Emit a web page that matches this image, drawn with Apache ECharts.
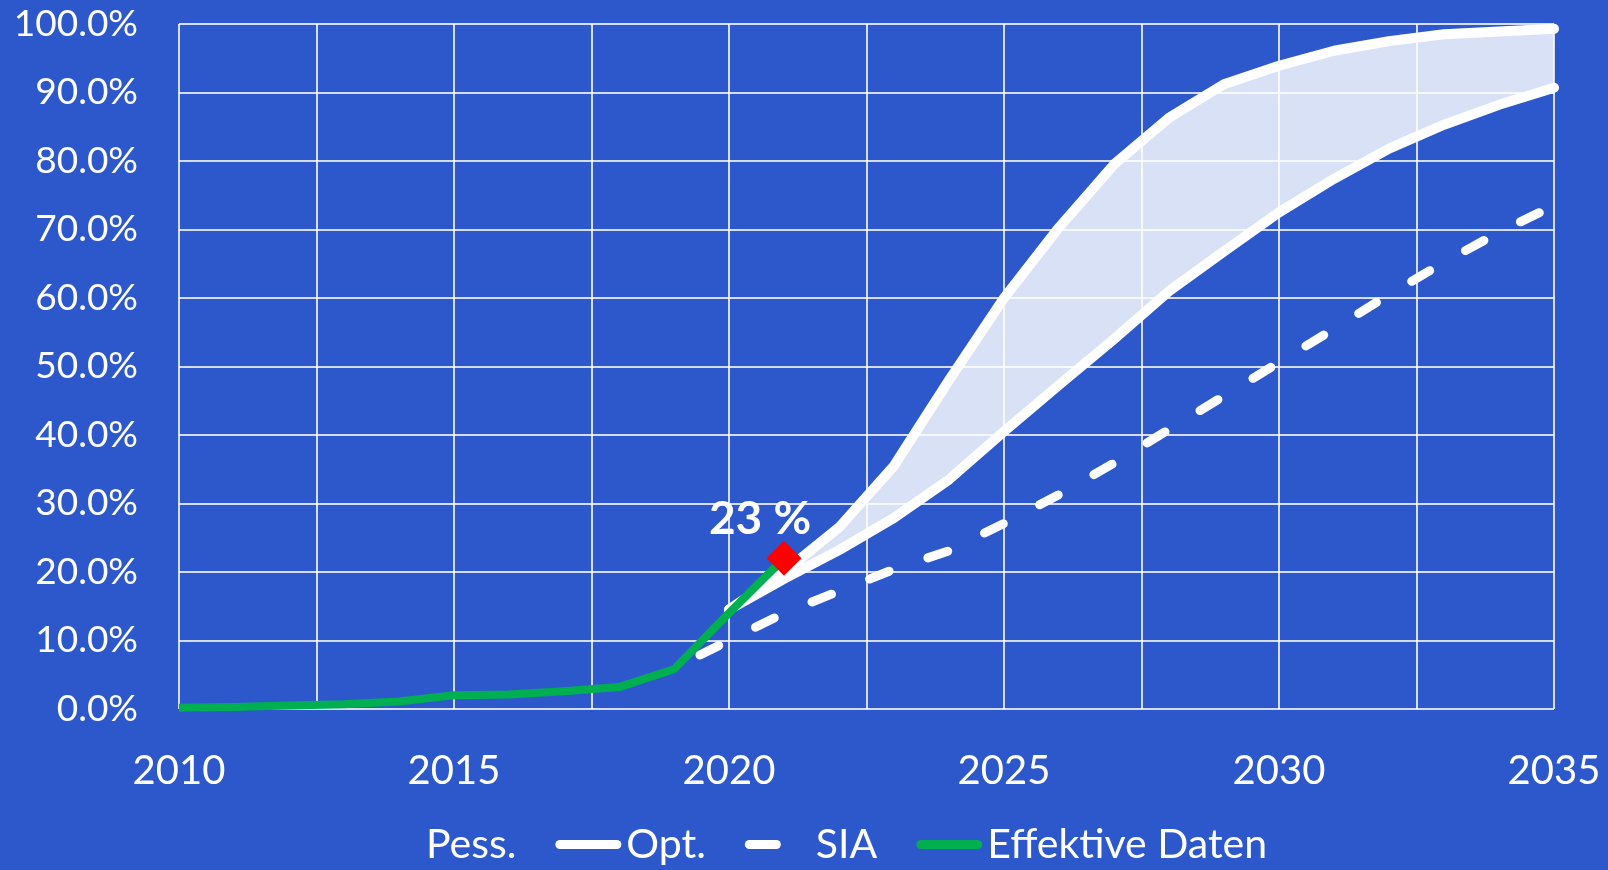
<!DOCTYPE html>
<html>
<head>
<meta charset="utf-8">
<title>Effektive Daten</title>
<script src="https://cdn.jsdelivr.net/npm/echarts@6/dist/echarts.min.js"></script>
<style>
    html, body {margin: 0; padding: 0; background: #2c58cc;}
    #myChart {width: 1608px; height: 870px;}
</style>
</head>
<body>
<div id="myChart"></div>
<script>
// Werte
var effYears = [2010, 2011, 2012, 2013, 2014, 2015, 2016, 2017, 2018, 2019, 2020, 2021];
var effValues = [0.2, 0.3, 0.5, 0.7, 1.1, 2.0, 2.1, 2.6, 3.2, 5.8, 14.0, 22.0];

var scenYears = [2020, 2021, 2022, 2023, 2024, 2025, 2026, 2027, 2028, 2029, 2030, 2031, 2032, 2033, 2034, 2035];
var pessValues = [14.5, 19.0, 23.2, 27.9, 33.5, 40.5, 47.3, 54.0, 61.0, 66.8, 72.5, 77.4, 81.8, 85.3, 88.2, 90.7];
var optValues = [14.5, 20.0, 26.5, 35.5, 48.0, 60.0, 70.3, 79.5, 86.3, 91.2, 93.9, 96.1, 97.5, 98.5, 98.9, 99.3];

var siaYears = [2019, 2020, 2021, 2022, 2023, 2024, 2025, 2026, 2027, 2028, 2029, 2030, 2031, 2032, 2033, 2034, 2035];
var siaValues = [6.0, 10.0, 14.0, 17.2, 20.4, 23.1, 27.1, 31.3, 35.9, 40.8, 45.7, 50.6, 55.5, 60.5, 65.2, 69.6, 73.5];

var markYear = 2021;
var markValue = 22.0;
var markLabel = '23 %';

var xLabelYears = [2010, 2015, 2020, 2025, 2030, 2035];

var lineIcon = 'path://M4.5,0 L61.5,0 A4.5,4.5 0 0 1 61.5,9 L4.5,9 A4.5,4.5 0 0 1 4.5,0 Z';
var dashIcon = 'path://M0,0 M66,9 M4.5,0 L31.5,0 A4.5,4.5 0 0 1 31.5,9 L4.5,9 A4.5,4.5 0 0 1 4.5,0 Z';

function pairs(xs, ys) {
    return ys.map(function (v, i) {
        return [xs[i], v];
    });
}

// Fläche zwischen Pess. und Opt.
function renderBand(params, api) {
    var points = [];
    for (var i = 0; i < scenYears.length; i++) {
        points.push(api.coord([scenYears[i], optValues[i]]));
    }
    for (var j = scenYears.length - 1; j >= 0; j--) {
        points.push(api.coord([scenYears[j], pessValues[j]]));
    }
    return {
        type: 'polygon',
        shape: {points: points},
        style: {fill: '#ffffff', opacity: 0.82}
    };
}

var myChart = echarts.init(document.getElementById('myChart'));

var option = {
    backgroundColor: '#2c58cc',
    textStyle: {fontFamily: 'Lato'},
    animation: false,
    grid: {
        left: 179,
        right: 54,
        top: 24,
        bottom: 161,
        outerBoundsMode: 'none'
    },
    legend: {
        left: 350,
        top: 819,
        itemWidth: 66,
        itemHeight: 9,
        itemGap: 39,
        textStyle: {color: '#fff', fontSize: 41, fontFamily: 'Lato'},
        data: [
            {name: 'Pess.', icon: 'none'},
            {name: 'Opt.', icon: lineIcon, itemStyle: {color: '#fff', borderWidth: 0}},
            {name: 'SIA', icon: dashIcon, itemStyle: {color: '#fff', borderWidth: 0}},
            {name: 'Effektive Daten', icon: lineIcon, itemStyle: {color: '#00b050', borderWidth: 0}}
        ]
    },
    xAxis: {
        type: 'value',
        min: 2010,
        max: 2035,
        interval: 2.5,
        axisLine: {show: false},
        axisTick: {show: false},
        axisLabel: {
            color: '#fff',
            fontSize: 40,
            margin: 42,
            formatter: function (v) {
                return xLabelYears.indexOf(v) >= 0 ? String(v) : '';
            }
        },
        splitLine: {show: true, lineStyle: {color: 'rgba(255,255,255,0.8)', width: 2}}
    },
    yAxis: {
        type: 'value',
        min: 0,
        max: 100,
        interval: 10,
        axisLine: {show: false},
        axisTick: {show: false},
        axisLabel: {
            color: '#fff',
            fontSize: 37,
            margin: 41,
            formatter: function (v) {
                return v.toFixed(1) + '%';
            }
        },
        splitLine: {show: true, lineStyle: {color: 'rgba(255,255,255,0.8)', width: 2}}
    },
    series: [
        {
            name: 'band',
            type: 'custom',
            renderItem: renderBand,
            data: [[scenYears[0], pessValues[0]]],
            silent: true,
            z: 1
        },
        {
            name: 'Pess.',
            type: 'line',
            data: pairs(scenYears, pessValues),
            showSymbol: false,
            lineStyle: {color: '#fff', width: 10, join: 'round', cap: 'round'},
            itemStyle: {color: '#fff'}
        },
        {
            name: 'Opt.',
            type: 'line',
            data: pairs(scenYears, optValues),
            showSymbol: false,
            lineStyle: {color: '#fff', width: 10, join: 'round', cap: 'round'},
            itemStyle: {color: '#fff'}
        },
        {
            name: 'SIA',
            type: 'line',
            data: pairs(siaYears, siaValues),
            showSymbol: false,
            lineStyle: {color: '#fff', width: 9, type: [21, 41], dashOffset: 33, cap: 'round', join: 'round'},
            itemStyle: {color: '#fff'}
        },
        {
            name: 'Effektive Daten',
            type: 'line',
            data: pairs(effYears, effValues),
            showSymbol: false,
            lineStyle: {color: '#00b050', width: 8, join: 'round', cap: 'butt'},
            itemStyle: {color: '#00b050'}
        },
        {
            name: 'marker',
            type: 'scatter',
            data: [[markYear, markValue]],
            symbol: 'diamond',
            symbolSize: 35,
            itemStyle: {color: '#ff0000', opacity: 1},
            z: 5,
            label: {
                show: true,
                position: 'top',
                distance: 0,
                offset: [-24, 1],
                formatter: function () {
                    return markLabel;
                },
                color: '#fff',
                opacity: 1,
                fontSize: 46,
                fontWeight: 'bold',
                fontFamily: 'Lato'
            }
        }
    ]
};

myChart.setOption(option);
</script>
</body>
</html>
